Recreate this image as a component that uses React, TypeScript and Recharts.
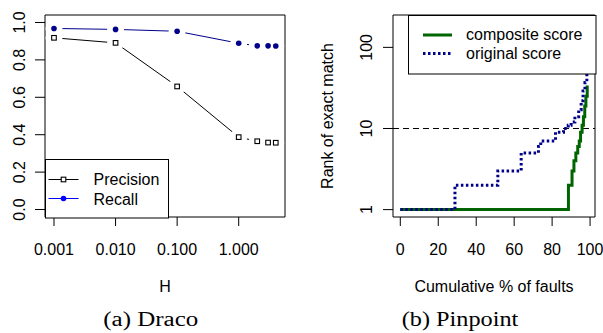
import React from 'react';
import { LineChart, Line, XAxis, YAxis, ReferenceArea, ReferenceLine } from 'recharts';

// (a) Draco: precision / recall against H
const hValues = [0.001, 0.01, 0.1, 1, 2, 3, 4];
const precision = [0.918, 0.891, 0.658, 0.387, 0.365, 0.358, 0.357];
const recall = [0.968, 0.963, 0.953, 0.889, 0.875, 0.875, 0.874];
const hTicks = [0.001, 0.01, 0.1, 1];
const scoreTicks = [0, 0.2, 0.4, 0.6, 0.8, 1.0];

// (b) Pinpoint: rank of exact match against cumulative % of faults (step series)
const compositePct = [0, 88.6, 90.5, 91.5, 92.5, 93.5, 94.3, 95, 95.8, 96.5, 97.2, 97.8, 98.5];
const compositeRank = [1, 2, 3, 4, 5, 6, 7, 9, 11, 14, 19, 25, 34];
const originalPct = [0, 28.8, 51.4, 63.7, 72.8, 74, 81.8, 86, 88.5, 90, 92, 94, 95.3, 96.3, 97.3, 98.3, 99, 99.6];
const originalRank = [1, 2, 3, 5, 6, 7, 9, 10, 11, 12, 14, 17, 22, 29, 37, 47, 90, 190];
const pctTicks = [0, 20, 40, 60, 80, 100];
const rankTicks = [1, 10, 100];

const SANS = '"Liberation Sans", Arial, Helvetica, sans-serif';
const SERIF = '"Liberation Serif", "Times New Roman", serif';
const NAVY = '#00008B';
const GREEN = '#006400';

const dracoRows = hValues.map((h, i) => ({ h, precision: precision[i], recall: recall[i] }));
const compositeRows = compositePct.map((pct, i) => ({ pct, rank: compositeRank[i] }));
const originalRows = originalPct.map((pct, i) => ({ pct, rank: originalRank[i] }));

const DRACO_X = [Math.pow(10, -3.146), Math.pow(10, 0.752)];
const DRACO_Y = [-0.04, 1.04];
const PIN_X = [-3.85, 102.6];
const PIN_Y = [Math.pow(10, -0.091), Math.pow(10, 2.399)];

const XTick = (props: any) => {
  const { x, payload, baseY, fmt } = props;
  return (
    <text x={x} y={baseY} textAnchor="middle" fontSize={16} fontFamily={SANS} fill="#000">
      {fmt(payload.value)}
    </text>
  );
};

const YTick = (props: any) => {
  const { y, payload, baseX, fmt } = props;
  return (
    <text x={baseX} y={y} transform={`rotate(-90 ${baseX} ${y})`} textAnchor="middle" fontSize={16} fontFamily={SANS} fill="#000">
      {fmt(payload.value)}
    </text>
  );
};

const Title = ({ tx, ty, text, rotate }: any) => (
  <text x={tx} y={ty} transform={rotate ? `rotate(-90 ${tx} ${ty})` : undefined} textAnchor="middle" fontSize={16} fontFamily={SANS} fill="#000">
    {text}
  </text>
);

// white halo so lines stop short of points, like R's type="b"
const halo = (p: any) => <circle key={`h-${p.index}`} cx={p.cx} cy={p.cy} r={8.5} fill="#fff" stroke="none" />;
const square = (p: any) => (
  <rect key={`s-${p.index}`} x={p.cx - 2.3} y={p.cy - 2.3} width={4.6} height={4.6} fill="#fff" stroke="#000" strokeWidth={1.1} />
);
const disc = (p: any) => <circle key={`c-${p.index}`} cx={p.cx} cy={p.cy} r={2.8} fill={NAVY} stroke="none" />;

const DracoChart = () => (
  <LineChart width={300} height={300} data={dracoRows} margin={{ top: 15, right: 15, bottom: 0, left: 0 }}>
    <XAxis
      dataKey="h"
      type="number"
      scale="log"
      domain={DRACO_X}
      allowDataOverflow
      ticks={hTicks}
      height={83}
      axisLine={false}
      tickSize={9}
      tickLine={{ stroke: '#000' }}
      tick={(p: any) => <XTick {...p} baseY={255} fmt={(v: number) => v.toFixed(3)} />}
      label={<Title tx={165} ty={292} text="H" />}
    />
    <YAxis
      type="number"
      domain={DRACO_Y}
      allowDataOverflow
      ticks={scoreTicks}
      width={45}
      axisLine={false}
      tickSize={10}
      tickLine={{ stroke: '#000' }}
      tick={(p: any) => <YTick {...p} baseX={25} fmt={(v: number) => v.toFixed(1)} />}
    />
    <ReferenceArea x1={DRACO_X[0]} x2={DRACO_X[1]} y1={DRACO_Y[0]} y2={DRACO_Y[1]} fill="none" stroke="#000" strokeWidth={1} />
    <Line dataKey="precision" stroke="#000" strokeWidth={1} dot={false} isAnimationActive={false} />
    <Line dataKey="recall" stroke={NAVY} strokeWidth={1} dot={false} isAnimationActive={false} />
    <Line dataKey="precision" stroke="none" dot={halo} isAnimationActive={false} />
    <Line dataKey="recall" stroke="none" dot={halo} isAnimationActive={false} />
    <Line dataKey="precision" stroke="none" dot={square} isAnimationActive={false} />
    <Line dataKey="recall" stroke="none" dot={disc} isAnimationActive={false} />
  </LineChart>
);

const PinpointChart = () => (
  <LineChart width={303} height={300} margin={{ top: 15, right: 8, bottom: 0, left: 0 }}>
    <XAxis
      dataKey="pct"
      type="number"
      domain={PIN_X}
      allowDataOverflow
      ticks={pctTicks}
      height={83}
      axisLine={false}
      tickSize={9}
      tickLine={{ stroke: '#000' }}
      tick={(p: any) => <XTick {...p} baseY={255} fmt={(v: number) => String(v)} />}
      label={<Title tx={194} ty={292} text="Cumulative % of faults" />}
    />
    <YAxis
      type="number"
      scale="log"
      domain={PIN_Y}
      allowDataOverflow
      ticks={rankTicks}
      width={93}
      axisLine={false}
      tickSize={10}
      tickLine={{ stroke: '#000' }}
      tick={(p: any) => <YTick {...p} baseX={72} fmt={(v: number) => String(v)} />}
      label={<Title tx={33} ty={116} text="Rank of exact match" rotate />}
    />
    <ReferenceArea x1={PIN_X[0]} x2={PIN_X[1]} y1={PIN_Y[0]} y2={PIN_Y[1]} fill="none" stroke="#000" strokeWidth={1} />
    <ReferenceLine y={10} stroke="#000" strokeWidth={1} strokeDasharray="6 4" />
    <Line data={compositeRows} dataKey="rank" type="stepAfter" stroke={GREEN} strokeWidth={3} dot={false} isAnimationActive={false} />
    <Line data={originalRows} dataKey="rank" type="stepAfter" stroke={NAVY} strokeWidth={3} strokeDasharray="2.5 2.5" dot={false} isAnimationActive={false} />
  </LineChart>
);

const DracoLegend = () => (
  <svg width={125} height={60} style={{ position: 'absolute', left: 44.5, top: 158.5 }}>
    <rect x={0.5} y={0.5} width={123} height={58.5} fill="#fff" stroke="#000" strokeWidth={1} />
    <line x1={3.5} x2={33.5} y1={20.5} y2={20.5} stroke="#000" strokeWidth={1} />
    <rect x={16.2} y={18.2} width={4.6} height={4.6} fill="#fff" stroke="#000" strokeWidth={1.1} />
    <text x={48.5} y={26} fontSize={16} fontFamily={SANS} fill="#000">Precision</text>
    <line x1={3.5} x2={33.5} y1={39.5} y2={39.5} stroke="#0000FF" strokeWidth={1} />
    <circle cx={18.5} cy={39.5} r={2.8} fill="#0000FF" />
    <text x={48.5} y={45.5} fontSize={16} fontFamily={SANS} fill="#000">Recall</text>
  </svg>
);

const PinpointLegend = () => (
  <svg width={189} height={60} style={{ position: 'absolute', left: 407.5, top: 14.5 }}>
    <rect x={0.5} y={0.5} width={187.5} height={58.5} fill="#fff" stroke="#000" strokeWidth={1} />
    <line x1={15} x2={44} y1={20} y2={20} stroke={GREEN} strokeWidth={3} />
    <text x={58} y={25} fontSize={16} fontFamily={SANS} fill="#000">composite score</text>
    <line x1={15} x2={44} y1={38.5} y2={38.5} stroke={NAVY} strokeWidth={3} strokeDasharray="2.5 2.5" />
    <text x={58} y={44} fontSize={16} fontFamily={SANS} fill="#000">original score</text>
  </svg>
);

const Captions = () => (
  <svg width={603} height={333} style={{ position: 'absolute', left: 0, top: 0, pointerEvents: 'none' }}>
    <text x={103.3} y={326} fontSize={20} fontFamily={SERIF} fill="#000" textLength={95} lengthAdjust="spacingAndGlyphs">
      (a) Draco
    </text>
    <text x={401.7} y={326} fontSize={20} fontFamily={SERIF} fill="#000" textLength={116.6} lengthAdjust="spacingAndGlyphs">
      (b) Pinpoint
    </text>
  </svg>
);

export default function App() {
  return (
    <div style={{ position: 'absolute', left: 0, top: 0, width: 603, height: 333, background: '#fff', overflow: 'hidden' }}>
      <div style={{ position: 'absolute', left: 0, top: 0 }}>
        <DracoChart />
      </div>
      <div style={{ position: 'absolute', left: 300, top: 0 }}>
        <PinpointChart />
      </div>
      <DracoLegend />
      <PinpointLegend />
      <Captions />
    </div>
  );
}
